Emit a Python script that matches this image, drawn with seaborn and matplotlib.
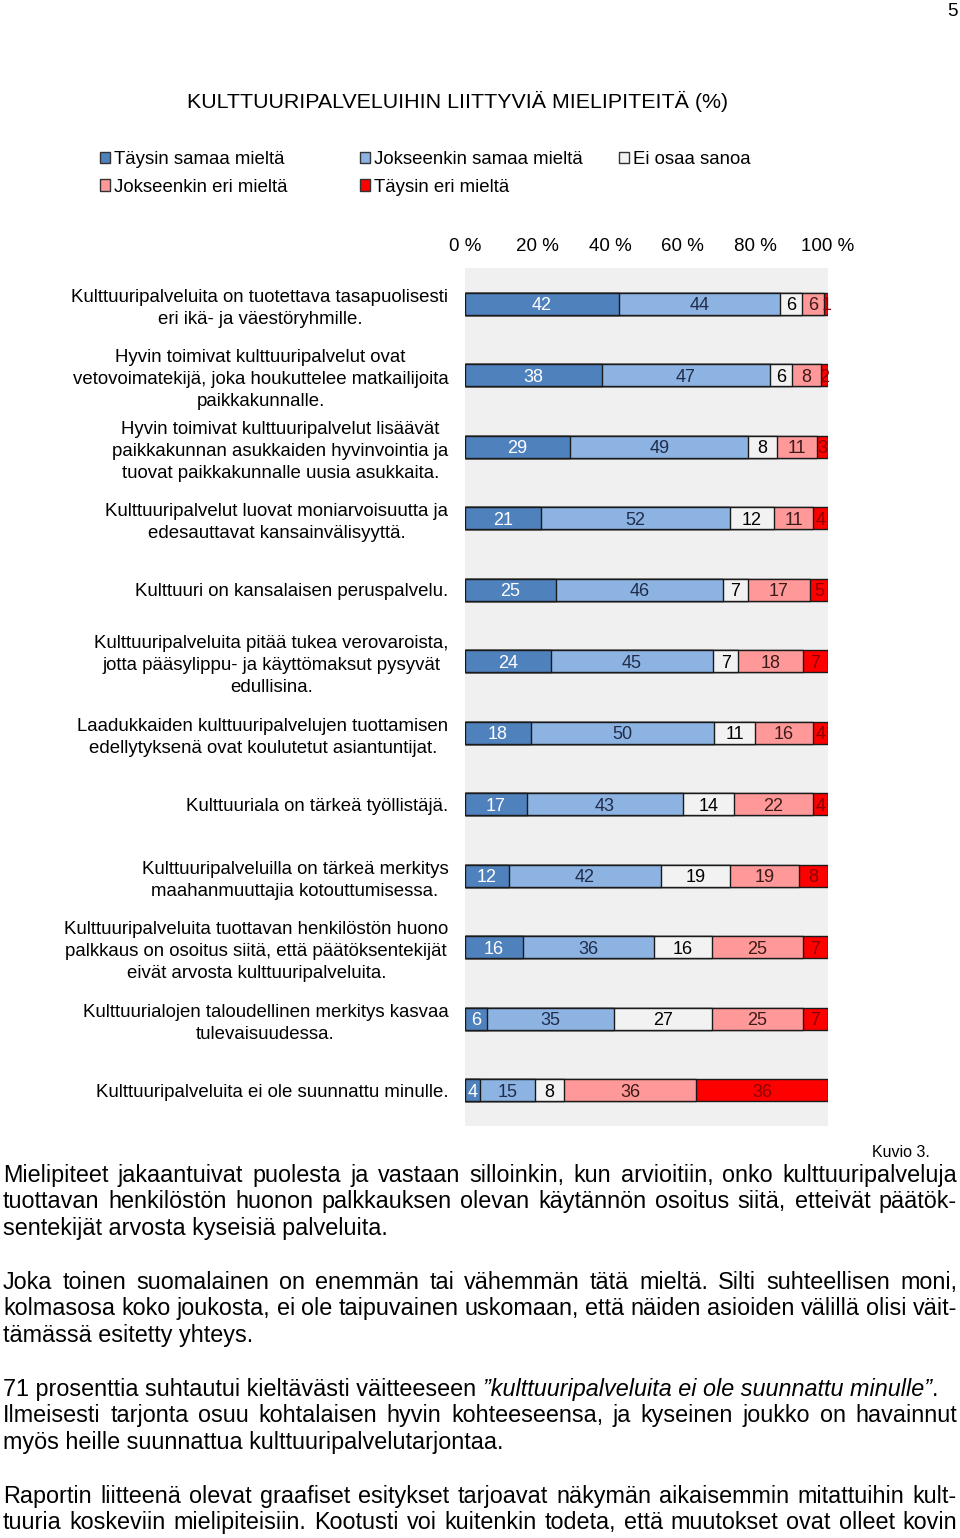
import numpy as np
import pandas as pd
import seaborn as sns
import matplotlib.pyplot as plt
from matplotlib.patches import Patch
from matplotlib import font_manager

# Survey statements (top to bottom) and answer shares (%)
statements = [
    "Kulttuuripalveluita on tuotettava tasapuolisesti\neri ikä- ja väestöryhmille.",
    "Hyvin toimivat kulttuuripalvelut ovat\nvetovoimatekijä, joka houkuttelee matkailijoita\npaikkakunnalle.",
    "Hyvin toimivat kulttuuripalvelut lisäävät\npaikkakunnan asukkaiden hyvinvointia ja\ntuovat paikkakunnalle uusia asukkaita.",
    "Kulttuuripalvelut luovat moniarvoisuutta ja\nedesauttavat kansainvälisyyttä.",
    "Kulttuuri on kansalaisen peruspalvelu.",
    "Kulttuuripalveluita pitää tukea verovaroista,\njotta pääsylippu- ja käyttömaksut pysyvät\nedullisina.",
    "Laadukkaiden kulttuuripalvelujen tuottamisen\nedellytyksenä ovat koulutetut asiantuntijat.",
    "Kulttuuriala on tärkeä työllistäjä.",
    "Kulttuuripalveluilla on tärkeä merkitys\nmaahanmuuttajia kotouttumisessa.",
    "Kulttuuripalveluita tuottavan henkilöstön huono\npalkkaus on osoitus siitä, että päätöksentekijät\neivät arvosta kulttuuripalveluita.",
    "Kulttuurialojen taloudellinen merkitys kasvaa\ntulevaisuudessa.",
    "Kulttuuripalveluita ei ole suunnattu minulle.",
]
answers = ["Täysin samaa mieltä", "Jokseenkin samaa mieltä", "Ei osaa sanoa",
           "Jokseenkin eri mieltä", "Täysin eri mieltä"]
taysin_samaa = [42, 38, 29, 21, 25, 24, 18, 17, 12, 16, 6, 4]
jokseenkin_samaa = [44, 47, 49, 52, 46, 45, 50, 43, 42, 36, 35, 15]
ei_osaa = [6, 6, 8, 12, 7, 7, 11, 14, 19, 16, 27, 8]
jokseenkin_eri = [6, 8, 11, 11, 17, 18, 16, 22, 19, 25, 25, 36]
taysin_eri = [1, 2, 3, 4, 5, 7, 4, 4, 8, 7, 7, 36]
xticks = [0, 20, 40, 60, 80, 100]

colors = ["#4f81bd", "#8db3e2", "#f2f2f2", "#ff9999", "#ff0000"]
label_colors = ["white", "#1f2d4a", "black", "#3d1a1a", "#8b0000"]

title = "KULTTUURIPALVELUIHIN LIITTYVIÄ MIELIPITEITÄ (%)"
para1 = ["Mielipiteet jakaantuivat puolesta ja vastaan silloinkin, kun arvioitiin, onko kulttuuripalveluja",
         "tuottavan henkilöstön huonon palkkauksen olevan käytännön osoitus siitä, etteivät päätök-",
         "sentekijät arvosta kyseisiä palveluita."]
para2 = ["Joka toinen suomalainen on enemmän tai vähemmän tätä mieltä. Silti suhteellisen moni,",
         "kolmasosa koko joukosta, ei ole taipuvainen uskomaan, että näiden asioiden välillä olisi väit-",
         "tämässä esitetty yhteys."]
para3_first = ["71 prosenttia suhtautui kieltävästi väitteeseen ",
               "”kulttuuripalveluita ei ole suunnattu minulle”", "."]
para3 = ["Ilmeisesti tarjonta osuu kohtalaisen hyvin kohteeseensa, ja kyseinen joukko on havainnut",
         "myös heille suunnattua kulttuuripalvelutarjontaa."]
para4 = ["Raportin liitteenä olevat graafiset esitykset tarjoavat näkymän aikaisemmin mitattuihin kult-",
         "tuuria koskeviin mielipiteisiin. Kootusti voi kuitenkin todeta, että muutokset ovat olleet kovin"]

df = pd.DataFrame(dict(zip(answers, [taysin_samaa, jokseenkin_samaa, ei_osaa,
                                     jokseenkin_eri, taysin_eri])), index=statements)
shares = df.div(df.sum(axis=1), axis=0) * 100
cum = shares.cumsum(axis=1)

plt.rcParams['font.family'] = ['Liberation Sans', 'DejaVu Sans']
names = {f.name for f in font_manager.fontManager.ttflist}
body_font = 'Liberation Sans Narrow' if 'Liberation Sans Narrow' in names else 'Liberation Sans'

W, H = 960, 1538
fig = plt.figure(figsize=(W / 100, H / 100), dpi=100)
ax = fig.add_axes([465 / W, 1 - 1126 / H, 363 / W, 858 / H])

# stacked bars: draw cumulative totals from the largest to the smallest
for k in reversed(range(len(answers))):
    sns.barplot(x=cum[answers[k]].values, y=statements, orient='h', color=colors[k],
                saturation=1, width=0.31, edgecolor='#1a1a1a', linewidth=1, ax=ax)

for i, stmt in enumerate(statements):
    left = 0
    for k, a in enumerate(answers):
        w = shares.loc[stmt, a]
        ax.text(left + w / 2, i, str(df.loc[stmt, a]), ha='center', va='center_baseline',
                fontsize=13, color=label_colors[k])
        left += w

ax.set_facecolor('#f0f0f0')
for s in ax.spines.values():
    s.set_visible(False)
ax.set_xlim(0, 100)
ax.set_ylim(11.5, -0.5)
ax.xaxis.tick_top()
ax.set_xticks(xticks)
ax.set_xticklabels([f"{t} %" for t in xticks], fontsize=13.5)
ax.set_yticks(range(len(statements)))
ax.set_yticklabels(statements, fontsize=13.4, linespacing=1.38)
for lab in ax.get_yticklabels():
    lab.set_multialignment('center')
ax.tick_params(length=0)
ax.tick_params(axis='y', pad=12)
ax.tick_params(axis='x', pad=9.5)
ax.set_xlabel('')
ax.set_ylabel('')

fig.text(458 / W, 1 - 101 / H, title, ha='center', va='center', fontsize=15.4)
fig.text(958 / W, 1 - 12 / H, "5", ha='right', va='center', fontsize=13.5)

# legend in three columns
def patch(k):
    return Patch(facecolor=colors[k], edgecolor='#333333', linewidth=1, label=answers[k])

for cols, x in [([0, 3], 100), ([1, 4], 360), ([2], 619)]:
    fig.legend(handles=[patch(k) for k in cols], loc='upper left',
               bbox_to_anchor=(x / W, 1 - 151 / H), frameon=False, fontsize=13.4,
               handlelength=0.55, handleheight=0.55, handletextpad=0.2,
               labelspacing=0.57, borderpad=0, borderaxespad=0)

# body text (justified)
fig.canvas.draw()
renderer = fig.canvas.get_renderer()
body = dict(fontsize=16.8, family=body_font)
X0, X1 = 3, 957


def text_width(s, **kw):
    t = fig.text(0, 0, s, **kw)
    w = t.get_window_extent(renderer).width
    t.remove()
    return w


def put_line(line, y, justify=True):
    if not justify:
        fig.text(X0 / W, 1 - y / H, line, ha='left', va='baseline', **body)
        return
    words = line.split()
    widths = [text_width(w, **body) for w in words]
    gap = (X1 - X0 - sum(widths)) / (len(words) - 1)
    x = X0
    for w, wd in zip(words, widths):
        fig.text(x / W, 1 - y / H, w, ha='left', va='baseline', **body)
        x += wd + gap


fig.text(930 / W, 1 - 1157 / H, "Kuvio 3.", ha='right', va='baseline', fontsize=11.5,
         family=body_font)

for paragraph, ys in [(para1, [1182, 1208, 1235]), (para2, [1289, 1315, 1342])]:
    for j, (line, y) in enumerate(zip(paragraph, ys)):
        put_line(line, y, justify=j < len(paragraph) - 1)

space = text_width("a a", **body) - text_width("aa", **body)
x = X0
for j, seg in enumerate(para3_first):
    style = 'italic' if j == 1 else 'normal'
    seg_s = seg.rstrip()
    fig.text(x / W, 1 - 1396 / H, seg_s, ha='left', va='baseline', style=style, **body)
    x += text_width(seg_s, style=style, **body) + (space if seg != seg_s else 0)

put_line(para3[0], 1422)
put_line(para3[1], 1449, justify=False)
put_line(para4[0], 1503)
put_line(para4[1], 1529)

fig.savefig('out.png', dpi=100)
